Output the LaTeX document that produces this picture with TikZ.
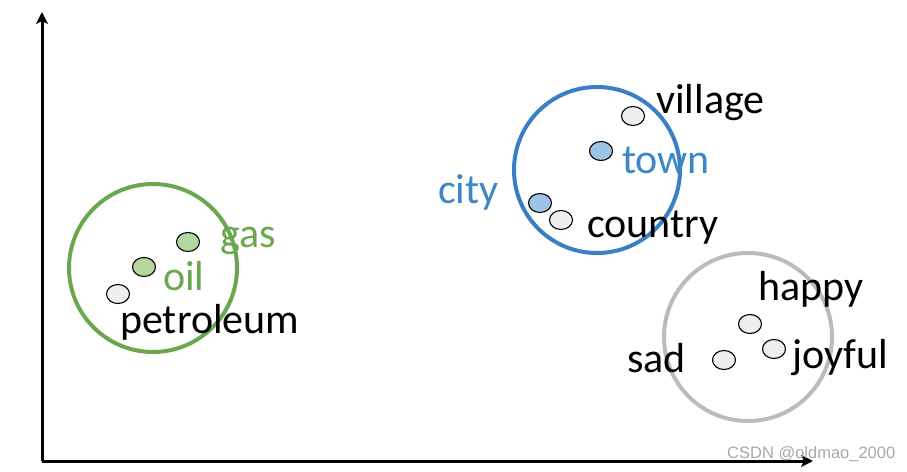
\documentclass[tikz,border=0pt]{standalone}
\usepackage{fontspec}
\setmainfont{Carlito}
\newfontfamily\wmfont{Liberation Sans}
\usetikzlibrary{arrows.meta,shapes.geometric}
\definecolor{cgreen}{HTML}{6AA84F}
\definecolor{lgreen}{HTML}{B4D7A1}
\definecolor{cblue}{HTML}{3A7FC4}
\definecolor{tblue}{HTML}{3D86C8}
\definecolor{lblue}{HTML}{9DC3E6}
\definecolor{cgray}{HTML}{BBBBBB}
\definecolor{lgray}{HTML}{EEEEEE}
\definecolor{wmgray}{HTML}{A8A8A8}
\begin{document}
\begin{tikzpicture}[x=1pt,y=-1pt,
  dot/.style={ellipse,draw=black,line width=1.1pt,minimum width=23pt,minimum height=19pt,inner sep=0pt},
  word/.style={anchor=base west,inner sep=0pt,font=\fontsize{42}{50}\selectfont},
  cluster/.style={line width=4pt},
  axis/.style={line width=3pt,-{Stealth[length=12pt,width=12pt,inset=3pt]}}]
\useasboundingbox[fill=white] (0,0) rectangle (907,471);
% axes
\coordinate (O) at (42,461);
\coordinate (Y) at (42,12);
\coordinate (X) at (813,461);
\draw[axis] (O) -- (Y);
\draw[axis] (O) -- (X);
% cluster circles
\node[circle,draw=cgreen,cluster,minimum size=168pt] (cg) at (153,268) {};
\node[circle,draw=cblue,cluster,minimum size=166pt] (cb) at (597,170) {};
\node[circle,draw=cgray,cluster,minimum size=168pt] (cy) at (748,337) {};
% green cluster
\node[dot,fill=lgreen] (dgas) at (188,242) {};
\node[dot,fill=lgreen] (doil) at (144,267) {};
\node[dot,fill=lgray] (dpet) at (118,294) {};
\node[word,text=cgreen] (gas) at (220,247) {gas};
\node[word,text=cgreen] (oil) at (163,290) {oil};
\node[word] (pet) at (120,333) {petroleum};
% blue cluster
\node[dot,fill=lgray] (dvil) at (633,116) {};
\node[dot,fill=lblue] (dtown) at (601,151) {};
\node[dot,fill=lblue] (dcity) at (540,203) {};
\node[dot,fill=lgray] (dcountry) at (561,220) {};
\node[word] (village) at (656,113) {village};
\node[word,text=tblue] (town) at (622,173) {town};
\node[word,text=tblue] (city) at (438,203) {city};
\node[word] (country) at (587,237) {country};
% gray cluster
\node[dot,fill=lgray] (dhappy) at (750,324) {};
\node[dot,fill=lgray] (djoy) at (774,349) {};
\node[dot,fill=lgray] (dsad) at (724,360) {};
\node[word] (happy) at (758,300) {happy};
\node[word] (joyful) at (792,368) {joyful};
\node[word] (sad) at (627,372) {sad};
% watermark
\node[anchor=base west,inner sep=0pt,text=wmgray,font=\wmfont\fontsize{16.5}{18}\selectfont] (wm) at (727,458) {CSDN @oldmao\_2000};
\end{tikzpicture}
\end{document}
